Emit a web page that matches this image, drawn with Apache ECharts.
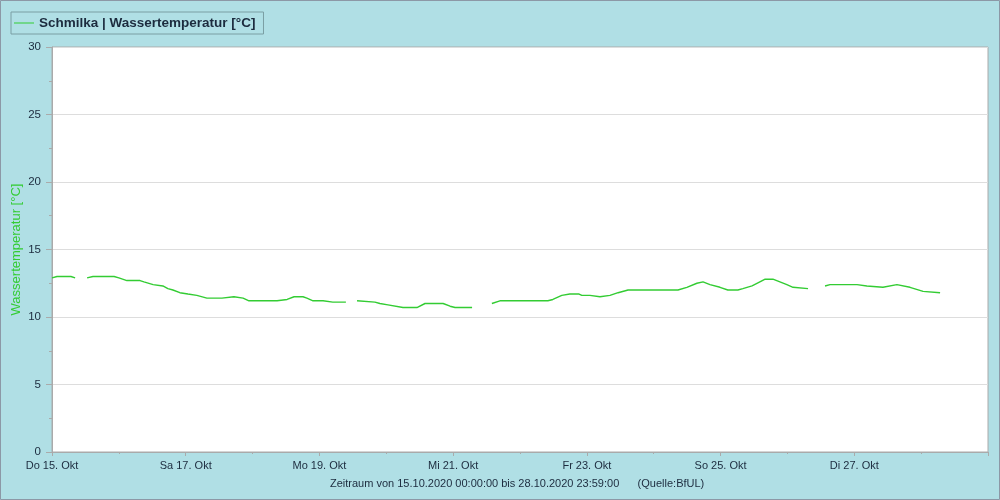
<!DOCTYPE html>
<html>
<head>
<meta charset="utf-8">
<script src="https://cdn.jsdelivr.net/npm/echarts@6/dist/echarts.min.js"></script>
<style>
    html, body {margin: 0; padding: 0; background: #b0dfe5;}
    #chart {width: 1000px; height: 500px;}
</style>
</head>
<body>
<div id="chart"></div>
<script>
// Stunden ab 15.10.2020 00:00 (null = Messluecke)
var hours = [
    0, 1.8, 6.8, 8.3, 10,
    12.6, 14.7, 22.3, 24, 26.9, 31.6, 33, 36.3, 39.8, 41.6, 43.4, 45.9, 48.8, 52, 55.6, 61,
    61.4, 65.3, 65.7, 68.6, 70.7, 80.8, 81.5, 84.4, 86.9, 90.1, 91.5, 93.7, 97.3, 100.8, 105.5, 108,
    109.5, 115.9, 117.7, 120.6, 126, 131, 133.9, 140.4, 142.9, 144.7, 150.8, 153,
    157.9, 160.8, 167.3, 167.6, 178, 179.8, 183, 185.9, 189.2, 190.2, 193.1, 193.8, 196.7, 197.4,
    200.3, 203.2, 206.8, 216.5, 217.2, 224.7, 227.9, 231.5, 233.7, 236.2, 239.8, 242.6, 246.2,
    248, 251.3, 254.1, 256, 258.8, 261.3, 263.8, 266, 271.4, 274,
    277.5, 279.3, 289, 292.5, 298.3, 303.3, 308, 312.7, 318.8
];
// Wassertemperatur [°C]
var temps = [
    12.9, 13.0, 13.0, 12.9, null,
    12.9, 13.0, 13.0, 12.9, 12.7, 12.7, 12.6, 12.4, 12.3, 12.1, 12.0, 11.8, 11.7, 11.6, 11.4, 11.4,
    11.5, 11.5, 11.4, 11.4, 11.2, 11.2, 11.3, 11.3, 11.5, 11.5, 11.4, 11.2, 11.2, 11.1, 11.1, null,
    11.2, 11.1, 11.0, 10.9, 10.7, 10.7, 11.0, 11.0, 10.8, 10.7, 10.7, null,
    11.0, 11.2, 11.2, 11.2, 11.2, 11.3, 11.6, 11.7, 11.7, 11.6, 11.6, 11.5, 11.5, 11.6,
    11.6, 11.8, 12.0, 12.0, 12.0, 12.0, 12.2, 12.5, 12.6, 12.4, 12.2, 12.0, 12.0,
    12.1, 12.3, 12.6, 12.8, 12.8, 12.6, 12.4, 12.2, 12.1, null,
    12.3, 12.4, 12.4, 12.3, 12.2, 12.4, 12.2, 11.9, 11.8
];
var xTickLabels = ['Do 15. Okt', 'Sa 17. Okt', 'Mo 19. Okt', 'Mi 21. Okt', 'Fr 23. Okt', 'So 25. Okt', 'Di 27. Okt', ''];

var seriesData = [];
for (var i = 0; i < hours.length; i++) {
    seriesData.push([hours[i], temps[i]]);
}

var myChart = echarts.init(document.getElementById('chart'));
var textColor = '#1c2b3e';
var font = 'Liberation Sans';

myChart.setOption({
    backgroundColor: '#b0dfe5',
    animation: false,
    textStyle: {fontFamily: font},
    legend: {
        left: 11,
        top: 12,
        padding: [4, 8, 4, 3],
        borderColor: '#7b9ea3',
        borderWidth: 1,
        icon: 'rect',
        itemWidth: 20,
        itemHeight: 1,
        itemGap: 4,
        textStyle: {color: textColor, fontWeight: 'bold', fontSize: 13.5, fontFamily: font, padding: [1, 0, 0, 0]},
        data: ['Schmilka | Wassertemperatur [°C]']
    },
    title: {
        text: 'Zeitraum von 15.10.2020 00:00:00 bis 28.10.2020 23:59:00      (Quelle:BfUL)',
        left: 330,
        top: 478,
        padding: 0,
        textStyle: {color: textColor, fontSize: 11, fontWeight: 'normal', fontFamily: font}
    },
    graphic: [{
        type: 'rect',
        shape: {x: 0.5, y: 0.5, width: 999, height: 499},
        style: {fill: 'none', stroke: '#8c98a6', lineWidth: 1},
        silent: true
    }],
    grid: {
        left: 52,
        right: 12,
        top: 47,
        bottom: 48,
        containLabel: false,
        outerBoundsMode: 'none',
        show: true,
        backgroundColor: '#ffffff',
        borderColor: '#aaaaaa',
        borderWidth: 1
    },
    xAxis: {
        type: 'value',
        min: 0,
        max: 336,
        interval: 48,
        axisLine: {lineStyle: {color: '#aaaaaa'}},
        axisTick: {length: 4, lineStyle: {color: '#aaaaaa'}},
        minorTick: {show: true, splitNumber: 2, length: 2, lineStyle: {color: '#aaaaaa'}},
        splitLine: {show: false},
        axisLabel: {
            color: textColor,
            fontSize: 11,
            margin: 8,
            formatter: function (v) {
                return xTickLabels[Math.round(v / 48)] || '';
            }
        }
    },
    yAxis: {
        type: 'value',
        min: 0,
        max: 30,
        interval: 5,
        name: 'Wassertemperatur [°C]',
        nameLocation: 'middle',
        nameGap: 29,
        nameMoveOverlap: false,
        nameTextStyle: {color: '#33cc33', fontSize: 13, fontFamily: font},
        axisLine: {show: true, lineStyle: {color: '#aaaaaa'}},
        axisTick: {show: true, length: 6, lineStyle: {color: '#aaaaaa'}},
        minorTick: {show: true, splitNumber: 2, length: 3, lineStyle: {color: '#aaaaaa'}},
        splitLine: {lineStyle: {color: '#dddddd'}},
        axisLabel: {color: textColor, fontSize: 11.5, margin: 11}
    },
    series: [{
        name: 'Schmilka | Wassertemperatur [°C]',
        type: 'line',
        data: seriesData,
        symbol: 'none',
        connectNulls: false,
        lineStyle: {color: '#33cc33', width: 1.4},
        itemStyle: {color: '#33cc33'}
    }]
});
</script>
</body>
</html>
